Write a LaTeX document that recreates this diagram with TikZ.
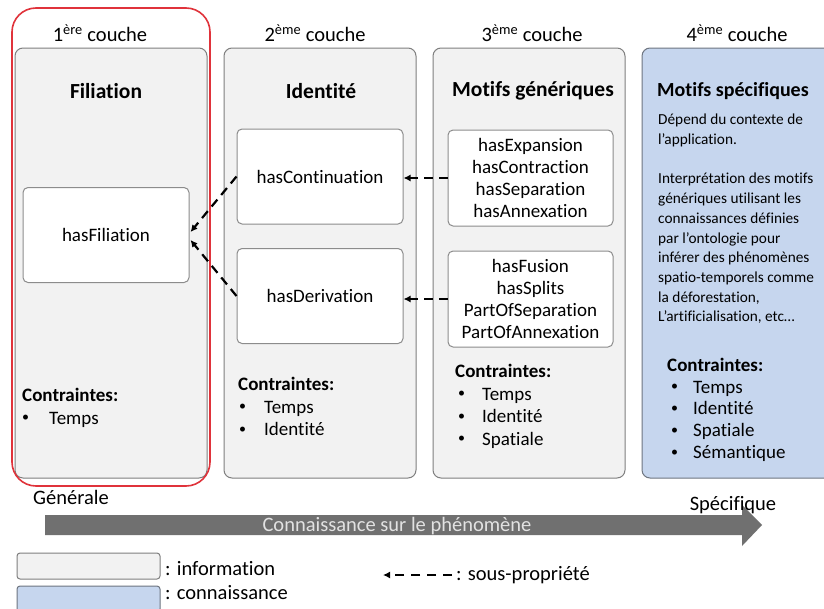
\documentclass[tikz,border=0pt]{standalone}
\usepackage{fontspec}
\setmainfont{Carlito}[Ligatures=NoCommon]
\usetikzlibrary{arrows.meta}
\definecolor{layergray}{HTML}{F2F2F2}
\definecolor{layerborder}{HTML}{7F7F7F}
\definecolor{innerborder}{HTML}{8C8C8C}
\definecolor{knowblue}{HTML}{C6D6EE}
\definecolor{knowborder}{HTML}{6E7580}
\definecolor{redframe}{HTML}{E0333B}
\definecolor{arrowgray}{HTML}{707070}
\definecolor{arrowtext}{HTML}{E2E2E2}
\tikzset{
  layerbox/.style={draw=layerborder, fill=layergray, line width=1pt, rounded corners=8pt,
    minimum width=192pt, minimum height=430pt, inner sep=0pt},
  knowbox/.style={draw=knowborder, fill=knowblue, line width=1pt, rounded corners=8pt,
    minimum width=192pt, minimum height=430pt, inner sep=0pt},
  innerbox/.style={draw=innerborder, fill=white, line width=1pt, rounded corners=5pt,
    minimum width=166pt, minimum height=95pt, inner sep=0pt, align=center,
    font=\fontsize{19}{22}\selectfont},
  layerlabel/.style={font=\fontsize{20.5}{24}\selectfont, inner sep=0pt},
  titlelabel/.style={font=\fontsize{21.5}{26}\selectfont\bfseries, inner sep=0pt},
  constr/.style={anchor=north west, align=left, inner sep=0pt, font=\fontsize{19}{22.5}\selectfont},
  subprop/.style={draw=black, line width=2.2pt, dash pattern=on 9pt off 6pt,
    -{Latex[length=7pt,width=7pt]}},
  plain/.style={inner sep=0pt, font=\fontsize{20.5}{24}\selectfont},
}
\newcommand{\bul}[1]{\makebox[#1][l]{\raisebox{0.12em}{\fontsize{14}{14}\selectfont\textbullet}}}
\begin{document}
\begin{tikzpicture}[x=1pt,y=-1pt]
\useasboundingbox (0,0) rectangle (824,608);
\fill[white] (0,0) rectangle (824,608);

% layers
\node[layerbox] (L1) at (111,263) {};
\node[layerbox] (L2) at (320,263) {};
\node[layerbox] (L3) at (529,263) {};
\node[knowbox, minimum width=196pt] (L4) at (740,263) {};
\draw[redframe, line width=1.6pt, rounded corners=24pt] (12,8) rectangle (210,486);
\coordinate (redframe) at (111,247);

% layer labels
\node[layerlabel] (c1) at (100,33) {1\textsuperscript{ère} couche};
\node[layerlabel] (c2) at (315,33) {2\textsuperscript{ème} couche};
\node[layerlabel] (c3) at (532,33) {3\textsuperscript{ème} couche};
\node[layerlabel] (c4) at (737,33) {4\textsuperscript{ème} couche};

% titles
\node[titlelabel] (t1) at (106,91) {Filiation};
\node[titlelabel] (t2) at (321,91) {Identité};
\node[titlelabel] (t3) at (533,91) {Motifs génériques};
\node[titlelabel, font=\fontsize{20}{24}\selectfont\bfseries] (t4) at (733,91) {Motifs spécifiques};

% inner boxes
\node[innerbox] (fil) at (106,235) {hasFiliation};
\node[innerbox] (cont) at (320,176.5) {hasContinuation};
\node[innerbox] (deriv) at (320,296) {hasDerivation};
\node[innerbox, minimum width=165pt, minimum height=96pt] (mg1) at (530.5,178)
  {hasExpansion\\hasContraction\\hasSeparation\\hasAnnexation};
\node[innerbox, minimum width=165pt, minimum height=96pt] (mg2) at (530.5,299)
  {hasFusion\\hasSplits\\PartOfSeparation\\PartOfAnnexation};

% sub-property connectors
\draw[subprop] (cont.west) -- ([xshift=1pt,yshift=3pt]fil.east);
\draw[subprop] (deriv.west) -- ([xshift=1pt,yshift=-5pt]fil.east);
\draw[subprop] (mg1.west) -- (mg1.west -| cont.east);
\draw[subprop] (mg2.west) -- (mg2.west -| deriv.east);

% constraints
\node[constr] (k1) at (22,388) {\textbf{Contraintes:}\\\bul{27pt}Temps};
\node[constr] (k2) at (238,377) {\textbf{Contraintes:}\\\hspace*{1pt}\bul{25pt}Temps\\\hspace*{1pt}\bul{25pt}Identité};
\node[constr] (k3) at (455,364) {\textbf{Contraintes:}\\\hspace*{3pt}\bul{24pt}Temps\\\hspace*{3pt}\bul{24pt}Identité\\\hspace*{3pt}\bul{24pt}Spatiale};

% layer 4 text
\node[anchor=north west, align=left, inner sep=0pt, font=\fontsize{15.3}{19.7}\selectfont] (desc) at (658,114)
  {Dépend du contexte de\\l’application.\\[19.7pt]Interprétation des motifs\\génériques utilisant les\\connaissances définies\\par l’ontologie pour\\inférer des phénomènes\\spatio-temporels comme\\la déforestation,\\L’artificialisation, etc…};
\node[anchor=north west, align=left, inner sep=0pt, font=\fontsize{19}{21.7}\selectfont] (k4) at (667,358)
  {\textbf{Contraintes:}\\\hspace*{4pt}\bul{22pt}Temps\\\hspace*{4pt}\bul{22pt}Identité\\\hspace*{4pt}\bul{22pt}Spatiale\\\hspace*{4pt}\bul{22pt}Sémantique};

% knowledge arrow
\fill[arrowgray] (45,515) -- (742,515) -- (742,505) -- (762,525) -- (742,546) -- (742,535) -- (45,535) -- cycle;
\node[plain, text=arrowtext] (knowtxt) at (397,526) {Connaissance sur le phénomène};
\node[plain] (gen) at (71,497) {Générale};
\node[plain] (spec) at (733,505) {Spécifique};

% legend
\node[draw=layerborder, fill=layergray, line width=1pt, rounded corners=3pt,
  minimum width=143pt, minimum height=26pt, inner sep=0pt] (leginfo) at (88.5,566) {};
\node[draw=knowborder, fill=knowblue, line width=1pt, rounded corners=3pt,
  minimum width=143pt, minimum height=26pt, inner sep=0pt] (legknow) at (88.5,599) {};
\node[plain, anchor=west] (leginfotxt) at (165,569) {: information};
\node[plain, anchor=west] (legknowtxt) at (165,593) {: connaissance};
\coordinate (legstart) at (452,575);
\coordinate (legtip) at (383,575);
\draw[subprop, dash pattern=on 9pt off 7pt] (legstart) -- (legtip);
\node[plain, anchor=west] (legsubtxt) at (456,575) {: sous-propriété};
\end{tikzpicture}
\end{document}
